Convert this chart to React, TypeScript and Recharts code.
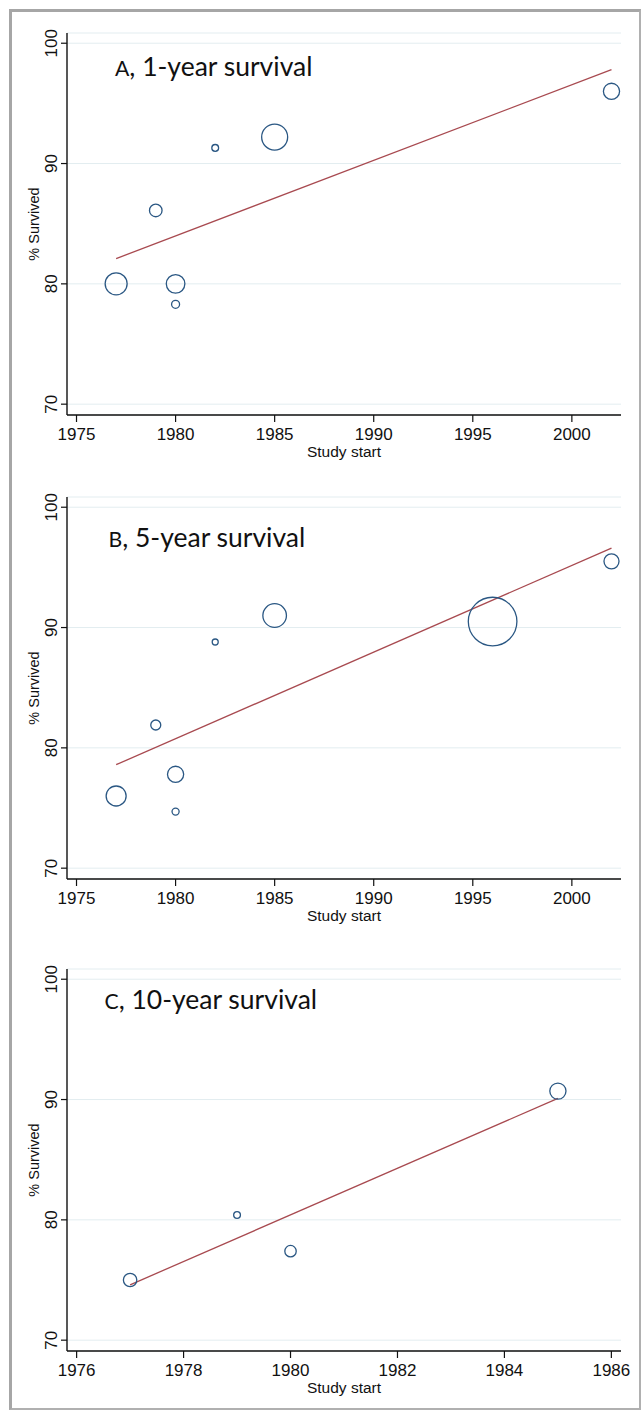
import React from 'react';
import { ComposedChart, Scatter, Line, XAxis, YAxis, ZAxis, CartesianGrid, Label } from 'recharts';

// Stata s2color-ish colours
const NAVY = '#2a5783';
const MAROON = '#a84a50';
const GRID = '#e3edf0';
const TICK_FONT = "'Liberation Sans Narrow', 'Arial Narrow', 'Liberation Sans', Arial, sans-serif";
const LABEL_FONT = "'Liberation Sans', Arial, sans-serif";
const TITLE_FONT = "Lato, 'Open Sans', sans-serif";

// A, 1-year survival
const yearsA = [1977, 1979, 1980, 1980, 1982, 1985, 2002];
const survA = [80.0, 86.1, 80.0, 78.3, 91.3, 92.2, 96.0];
const weightA = [242, 79, 173, 32, 23, 338, 131];
const fitYearsA = [1977, 2002];
const fitSurvA = [82.1, 97.8];

// B, 5-year survival
const yearsB = [1977, 1979, 1980, 1980, 1982, 1985, 1996, 2002];
const survB = [76.0, 81.9, 77.8, 74.7, 88.8, 91.0, 90.5, 95.5];
const weightB = [200, 50, 131, 25, 18, 278, 1181, 113];
const fitYearsB = [1977, 2002];
const fitSurvB = [78.6, 96.6];

// C, 10-year survival
const yearsC = [1977, 1979, 1980, 1985];
const survC = [75.0, 80.4, 77.4, 90.7];
const weightC = [90, 23, 65, 131];
const fitYearsC = [1977, 1985];
const fitSurvC = [74.6, 90.1];

const yTicks = [70, 80, 90, 100];
const xTicksAB = [1975, 1980, 1985, 1990, 1995, 2000];
const xTicksC = [1976, 1978, 1980, 1982, 1984, 1986];

const toRows = (years: number[], surv: number[], w?: number[]) =>
  years.map((year, i) => ({ year, pct: surv[i], w: w ? w[i] : 0 }));

const XTick = (props: any) => {
  const { x, y, payload } = props;
  return (
    <text x={x} y={y} dy={11.5} textAnchor="middle" fontSize={17} fontFamily={TICK_FONT} fill="#111">
      {payload.value}
    </text>
  );
};

const YTick = (props: any) => {
  const { x, y, payload } = props;
  return (
    <text x={x} y={y} transform={`rotate(-90 ${x} ${y})`} textAnchor="middle" fontSize={17} fontFamily={TICK_FONT} fill="#111">
      {payload.value}
    </text>
  );
};

type PanelProps = {
  top: number;
  studies: { year: number; pct: number; w: number }[];
  fit: { year: number; pct: number }[];
  xDomain: [number, number];
  xTicks: number[];
};

const Panel = ({ top, studies, fit, xDomain, xTicks }: PanelProps) => (
  <div style={{ position: 'absolute', left: 0, top }}>
    <ComposedChart width={643} height={465} margin={{ top: 33, right: 22, bottom: 0, left: 0 }}>
      <CartesianGrid vertical={false} stroke={GRID} strokeWidth={1} />
      <XAxis
        dataKey="year"
        type="number"
        domain={xDomain}
        ticks={xTicks}
        allowDataOverflow
        height={50}
        stroke="#000"
        axisLine={{ stroke: '#111', strokeWidth: 1.4 }}
        tickLine={{ stroke: '#111', strokeWidth: 1.2 }}
        tickSize={7}
        tickMargin={6}
        tick={<XTick />}
      >
        <Label value="Study start" position="insideBottom" offset={8} fontSize={15.5} fontFamily={LABEL_FONT} fill="#111" />
      </XAxis>
      <YAxis
        dataKey="pct"
        type="number"
        domain={[69.1, 100.85]}
        ticks={yTicks}
        allowDataOverflow
        width={67}
        stroke="#000"
        axisLine={{ stroke: '#111', strokeWidth: 1.4 }}
        tickLine={{ stroke: '#111', strokeWidth: 1.2 }}
        tickSize={6}
        tickMargin={4}
        tick={<YTick />}
      >
        <Label
          value="% Survived"
          angle={-90}
          position="insideLeft"
          offset={34}
          fontSize={14.5}
          fontFamily={LABEL_FONT}
          fill="#111"
          style={{ textAnchor: 'middle' }}
        />
      </YAxis>
      <ZAxis dataKey="w" type="number" domain={[0, 2000]} range={[0, 3141.6]} />
      <Line
        data={fit}
        dataKey="pct"
        type="linear"
        stroke={MAROON}
        strokeWidth={1.3}
        dot={false}
        activeDot={false}
        isAnimationActive={false}
      />
      <Scatter data={studies} fill="none" stroke={NAVY} strokeWidth={1.3} isAnimationActive={false} />
    </ComposedChart>
  </div>
);

const titleSize = 26.5;

export default function App() {
  return (
    <div style={{ position: 'absolute', left: 0, top: 0, width: 643, height: 1410, background: '#fff' }}>
      <div
        style={{
          position: 'absolute',
          left: 9,
          top: 9,
          width: 627,
          height: 1396,
          borderLeft: '3px solid #a6a6a6',
          borderTop: '3px solid #a6a6a6',
          borderRight: '2px solid #b0b0b0',
          borderBottom: '2px solid #b0b0b0',
        }}
      />
      <Panel top={0} studies={toRows(yearsA, survA, weightA)} fit={toRows(fitYearsA, fitSurvA)} xDomain={[1974.52, 2002.48]} xTicks={xTicksAB} />
      <Panel top={464} studies={toRows(yearsB, survB, weightB)} fit={toRows(fitYearsB, fitSurvB)} xDomain={[1974.52, 2002.48]} xTicks={xTicksAB} />
      <Panel top={936} studies={toRows(yearsC, survC, weightC)} fit={toRows(fitYearsC, fitSurvC)} xDomain={[1975.82, 1986.18]} xTicks={xTicksC} />
      <svg width={643} height={1410} style={{ position: 'absolute', left: 0, top: 0, pointerEvents: 'none' }}>
        <g fontFamily={TITLE_FONT} fontSize={titleSize} fill="#111">
          <text x={115} y={76}>
            <tspan fontSize={titleSize * 0.8}>A</tspan>, 1-year survival
          </text>
          <text x={108.5} y={547}>
            <tspan fontSize={titleSize * 0.8}>B</tspan>, 5-year survival
          </text>
          <text x={104.5} y={1009}>
            <tspan fontSize={titleSize * 0.8}>C</tspan>, 10-year survival
          </text>
        </g>
      </svg>
    </div>
  );
}
